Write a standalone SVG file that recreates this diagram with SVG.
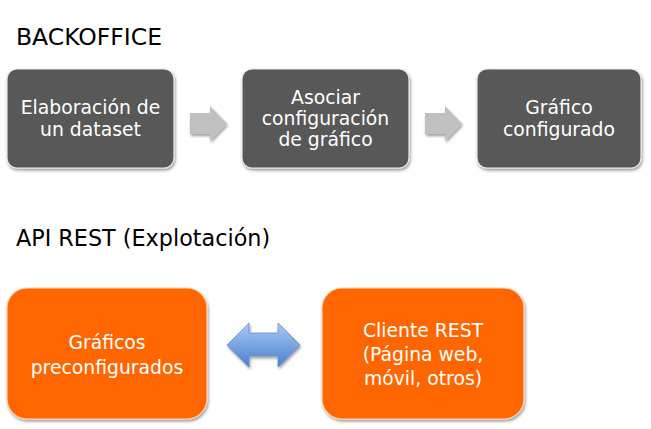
<svg xmlns="http://www.w3.org/2000/svg" width="651" height="429" viewBox="0 0 651 429">
<defs>
<style>
.title{font-family:"DejaVu Sans","Liberation Sans",sans-serif;font-size:22px;fill:#000}
.lbl{font-family:"DejaVu Sans","Liberation Sans",sans-serif;font-size:18.8px;fill:#fff;text-anchor:middle}
.dark{fill:#595959;stroke:#e6e6e6;stroke-width:1.2}
.orange{fill:#ff6600;stroke:#ffd2b0;stroke-width:1.2}
.garrow{fill:#c0c0c0}
</style>
<filter id="sh" x="-10%" y="-10%" width="130%" height="130%">
<feGaussianBlur in="SourceAlpha" stdDeviation="1.5"/>
<feOffset dx="1" dy="2" result="b"/>
<feComponentTransfer><feFuncA type="linear" slope="0.4"/></feComponentTransfer>
<feMerge><feMergeNode/><feMergeNode in="SourceGraphic"/></feMerge>
</filter>
<linearGradient id="blue" x1="0" y1="0" x2="0" y2="1">
<stop offset="0" stop-color="#a9caf2"/>
<stop offset="1" stop-color="#4a80cf"/>
</linearGradient>
</defs>
<rect width="651" height="429" fill="#fff"/>
<text class="title" x="16" y="45" style="font-size:23.5px">BACKOFFICE</text>
<text class="title" x="16" y="246" style="font-size:22.3px">API REST (Explotación)</text>
<g id="n1"><rect class="dark" x="7" y="69" width="167" height="99" rx="10" filter="url(#sh)"/>
<text class="lbl" x="90.5" y="114">Elaboración de</text><text class="lbl" x="90.5" y="136">un dataset</text></g>
<g id="n2"><rect class="dark" x="242" y="69" width="167" height="99" rx="10" filter="url(#sh)"/>
<text class="lbl" x="325.5" y="104">Asociar</text><text class="lbl" x="325.5" y="125">configuración</text><text class="lbl" x="325.5" y="146">de gráfico</text></g>
<g id="n3"><rect class="dark" x="477" y="69" width="164" height="99" rx="10" filter="url(#sh)"/>
<text class="lbl" x="559" y="114">Gráfico</text><text class="lbl" x="559" y="136">configurado</text></g>
<g id="n4"><rect class="orange" x="7" y="288" width="200" height="131" rx="20" filter="url(#sh)"/>
<text class="lbl" x="107" y="349">Gráficos</text><text class="lbl" x="107" y="374">preconfigurados</text></g>
<g id="n5"><rect class="orange" x="322" y="288" width="202" height="131" rx="20" filter="url(#sh)"/>
<text class="lbl" x="423" y="337">Cliente REST</text><text class="lbl" x="423" y="361">(Página web,</text><text class="lbl" x="423" y="385">móvil, otros)</text></g>
<g id="connectors">
<path class="garrow" filter="url(#sh)" d="M190,113 H210 V106 L227,123.5 L210,141 V134 H190 Z"/>
<path class="garrow" filter="url(#sh)" d="M425,113 H445 V106 L462,123.5 L445,141 V134 H425 Z"/>
<path fill="url(#blue)" stroke="#5f8fd0" stroke-width="0.8" filter="url(#sh)" d="M227,345 L249,323 V333 H278 V323 L300,345 L278,367 V356 H249 V367 Z"/>
</g>
</svg>
